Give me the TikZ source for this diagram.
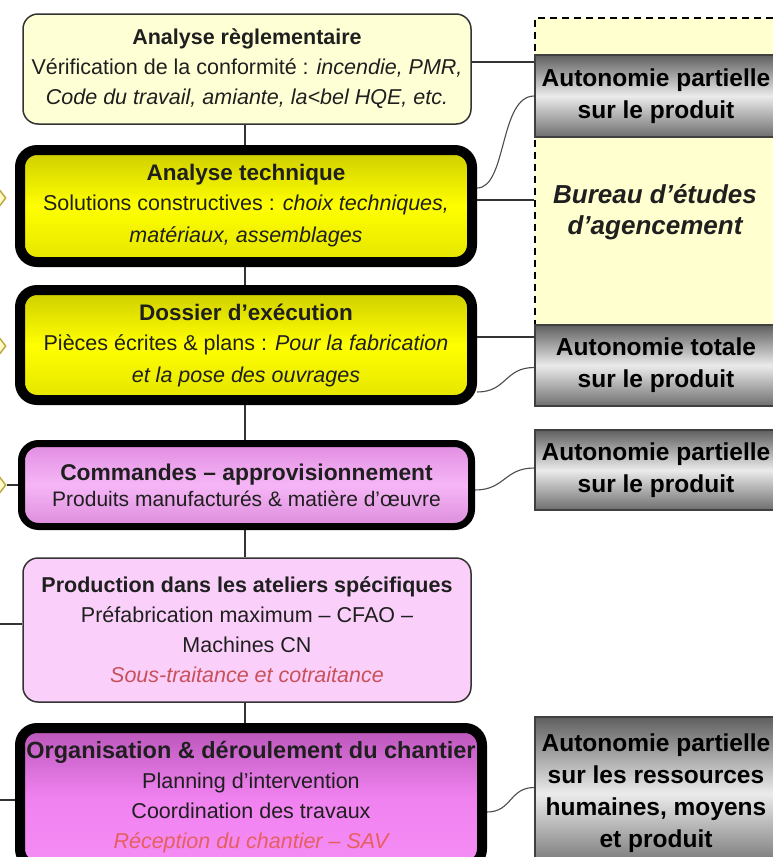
\documentclass[tikz,border=0pt]{standalone}
\usepackage{fontspec}
\setmainfont{Liberation Sans}
\usetikzlibrary{shapes.geometric}
\definecolor{bOneFill}{RGB}{255,255,213}
\definecolor{zoneFill}{RGB}{255,255,208}
\definecolor{bFiveFill}{RGB}{250,208,250}
\definecolor{yTop}{RGB}{205,205,0}
\definecolor{yMid}{RGB}{255,255,0}
\definecolor{yBot}{RGB}{228,228,0}
\definecolor{pTop}{RGB}{225,140,225}
\definecolor{pMid}{RGB}{246,182,246}
\definecolor{pBot}{RGB}{220,140,220}
\definecolor{mTop}{RGB}{185,85,185}
\definecolor{mMid}{RGB}{240,130,240}
\definecolor{mBot}{RGB}{245,140,245}
\definecolor{gbTop}{RGB}{95,95,95}
\definecolor{gbMid}{RGB}{235,235,235}
\definecolor{gbBot}{RGB}{110,110,110}
\definecolor{redOne}{RGB}{200,80,90}
\definecolor{redTwo}{RGB}{230,95,95}
\definecolor{tipLine}{RGB}{190,170,60}
\definecolor{tipFill}{RGB}{255,250,200}
\begin{document}
\begin{tikzpicture}[x=1pt,y=-1pt,
  thinbox/.style={draw=black!80, line width=1.5pt, rounded corners=15pt, align=center, inner sep=0pt, text=black!88, font=\fontsize{21.5}{30}\selectfont},
  thickbox/.style={draw=black, line width=10pt, rounded corners=17pt, align=center, inner sep=0pt, text=black!88, font=\fontsize{21.5}{30}\selectfont},
  yshade/.style={top color=yTop, bottom color=yBot, middle color=yMid},
  pshade/.style={top color=pTop, bottom color=pBot, middle color=pMid},
  mshade/.style={top color=mTop, bottom color=mBot, middle color=mMid},
  greybox/.style={draw=black!75, line width=1.5pt, top color=gbTop, bottom color=gbBot, middle color=gbMid, align=center, inner sep=0pt, text=black, font=\bfseries\fontsize{24.5}{32}\selectfont},
  zone/.style={draw=black, line width=1.3pt, dash pattern=on 7pt off 5pt, fill=zoneFill, inner sep=0pt},
  link/.style={draw=black!80, line width=1.3pt},
  wave/.style={draw=black!70, line width=1.1pt},
  tip/.style={diamond, draw=tipLine, fill=tipFill, line width=1.5pt, minimum width=14pt, minimum height=18pt, inner sep=0pt}
]
\useasboundingbox (0,0) rectangle (773,857);
\clip (0,0) rectangle (773,857);
\fill[white] (0,0) rectangle (773,857);
\coordinate (trunk) at (245,0);

% right zone
\node[zone, minimum width=245pt, minimum height=312pt] (bureau) at (657.5,174) {};
\node[font=\bfseries\itshape\fontsize{26}{31}\selectfont, align=center, text=black!88] (bet) at (655,212) {Bureau d’études\\d’agencement};

\node[greybox, minimum width=242pt, minimum height=82pt] (g1) at (656,96) {Autonomie partielle\\sur le produit};
\node[greybox, minimum width=242pt, minimum height=81pt] (g2) at (656,365.5) {Autonomie totale\\sur le produit};
\node[greybox, minimum width=242pt, minimum height=80pt] (g3) at (656,470) {Autonomie partielle\\sur le produit};
\node[greybox, minimum width=242pt, minimum height=153pt] (g4) at (656,793.5) {Autonomie partielle\\sur les ressources\\humaines, moyens\\et produit};

% left boxes
\node[thinbox, fill=bOneFill, minimum width=448pt, minimum height=110pt] (b1) at (247,69)
  {{\bfseries Analyse règlementaire}\\
   Vérification de la conformité : \textit{incendie, PMR,}\\
   \textit{Code du travail, amiante, la<bel HQE, etc.}};
\node[thickbox, yshade, minimum width=452pt, minimum height=112pt] (b2) at (246,206)
  {{\bfseries\fontsize{22.5}{30}\selectfont Analyse technique}\\
   Solutions constructives : \textit{choix techniques,}\\[2pt]
   \textit{matériaux, assemblages}};
\node[thickbox, yshade, minimum width=452pt, minimum height=110pt] (b3) at (246,345)
  {{\bfseries\fontsize{22.5}{30}\selectfont Dossier d’exécution}\\
   Pièces écrites \& plans : \textit{Pour la fabrication}\\[2pt]
   \textit{et la pose des ouvrages}};
\node[thickbox, pshade, line width=7pt, minimum width=450pt, minimum height=83pt, font=\fontsize{21}{26}\selectfont] (b4) at (246.5,485)
  {{\bfseries\fontsize{22.8}{26}\selectfont Commandes – approvisionnement}\\
   Produits manufacturés \& matière d’œuvre};
\node[thinbox, fill=bFiveFill, minimum width=448pt, minimum height=144pt] (b5) at (247,630)
  {{\bfseries Production dans les ateliers spécifiques}\\
   Préfabrication maximum – CFAO –\\
   Machines CN\\
   {\itshape\color{redOne} Sous-traitance et cotraitance}};
\node[thickbox, mshade, minimum width=462pt, minimum height=138pt] (b6) at (251,797)
  {{\bfseries\fontsize{23.5}{30}\selectfont Organisation \& déroulement du chantier}\\
   Planning d’intervention\\
   Coordination des travaux\\
   {\itshape\color{redTwo} Réception du chantier – SAV}};

% trunk
\draw[link] (b1.south -| trunk) -- (b2.north -| trunk);
\draw[link] (b2.south -| trunk) -- (b3.north -| trunk);
\draw[link] (b3.south -| trunk) -- (b4.north -| trunk);
\draw[link] (b4.south -| trunk) -- (b5.north -| trunk);
\draw[link] (b5.south -| trunk) -- (b6.north -| trunk);

% left side
\node[tip] (d2) at (-1,198) {};
\node[tip] (d3) at (-1,346) {};
\node[tip] (d4) at (-1,485) {};
\draw[link] (d4) -- (b4);
\coordinate (e5) at (-2,624);
\coordinate (e6) at (-2,800);
\draw[link] (e5) -- (e5 -| b5.west);
\draw[link] (e6) -- (e6 -| b6.west);

% right connectors
\draw[link] ([yshift=7pt]b1.east) -- ([yshift=7pt]b1.east -| g1.west);
\draw[wave] ([yshift=18pt]b2.east) .. controls +(30,0) and +(-35,0) .. (g1.west);
\draw[link] ([yshift=6pt]b2.east) -- ([yshift=6pt]b2.east -| bureau.west);
\draw[link] ([yshift=8pt]b3.east) -- ([yshift=8pt]b3.east -| g2.west);
\draw[wave] ([yshift=-47pt]b3.east) .. controls +(30,0) and +(-30,0) .. ([yshift=-2pt]g2.west);
\draw[wave] ([yshift=-5pt]b4.east) .. controls +(30,0) and +(-30,0) .. ([yshift=2pt]g3.west);
\draw[wave] ([yshift=-15pt]b6.east) .. controls +(25,0) and +(-25,0) .. ([yshift=6pt]g4.west);
\end{tikzpicture}
\end{document}
